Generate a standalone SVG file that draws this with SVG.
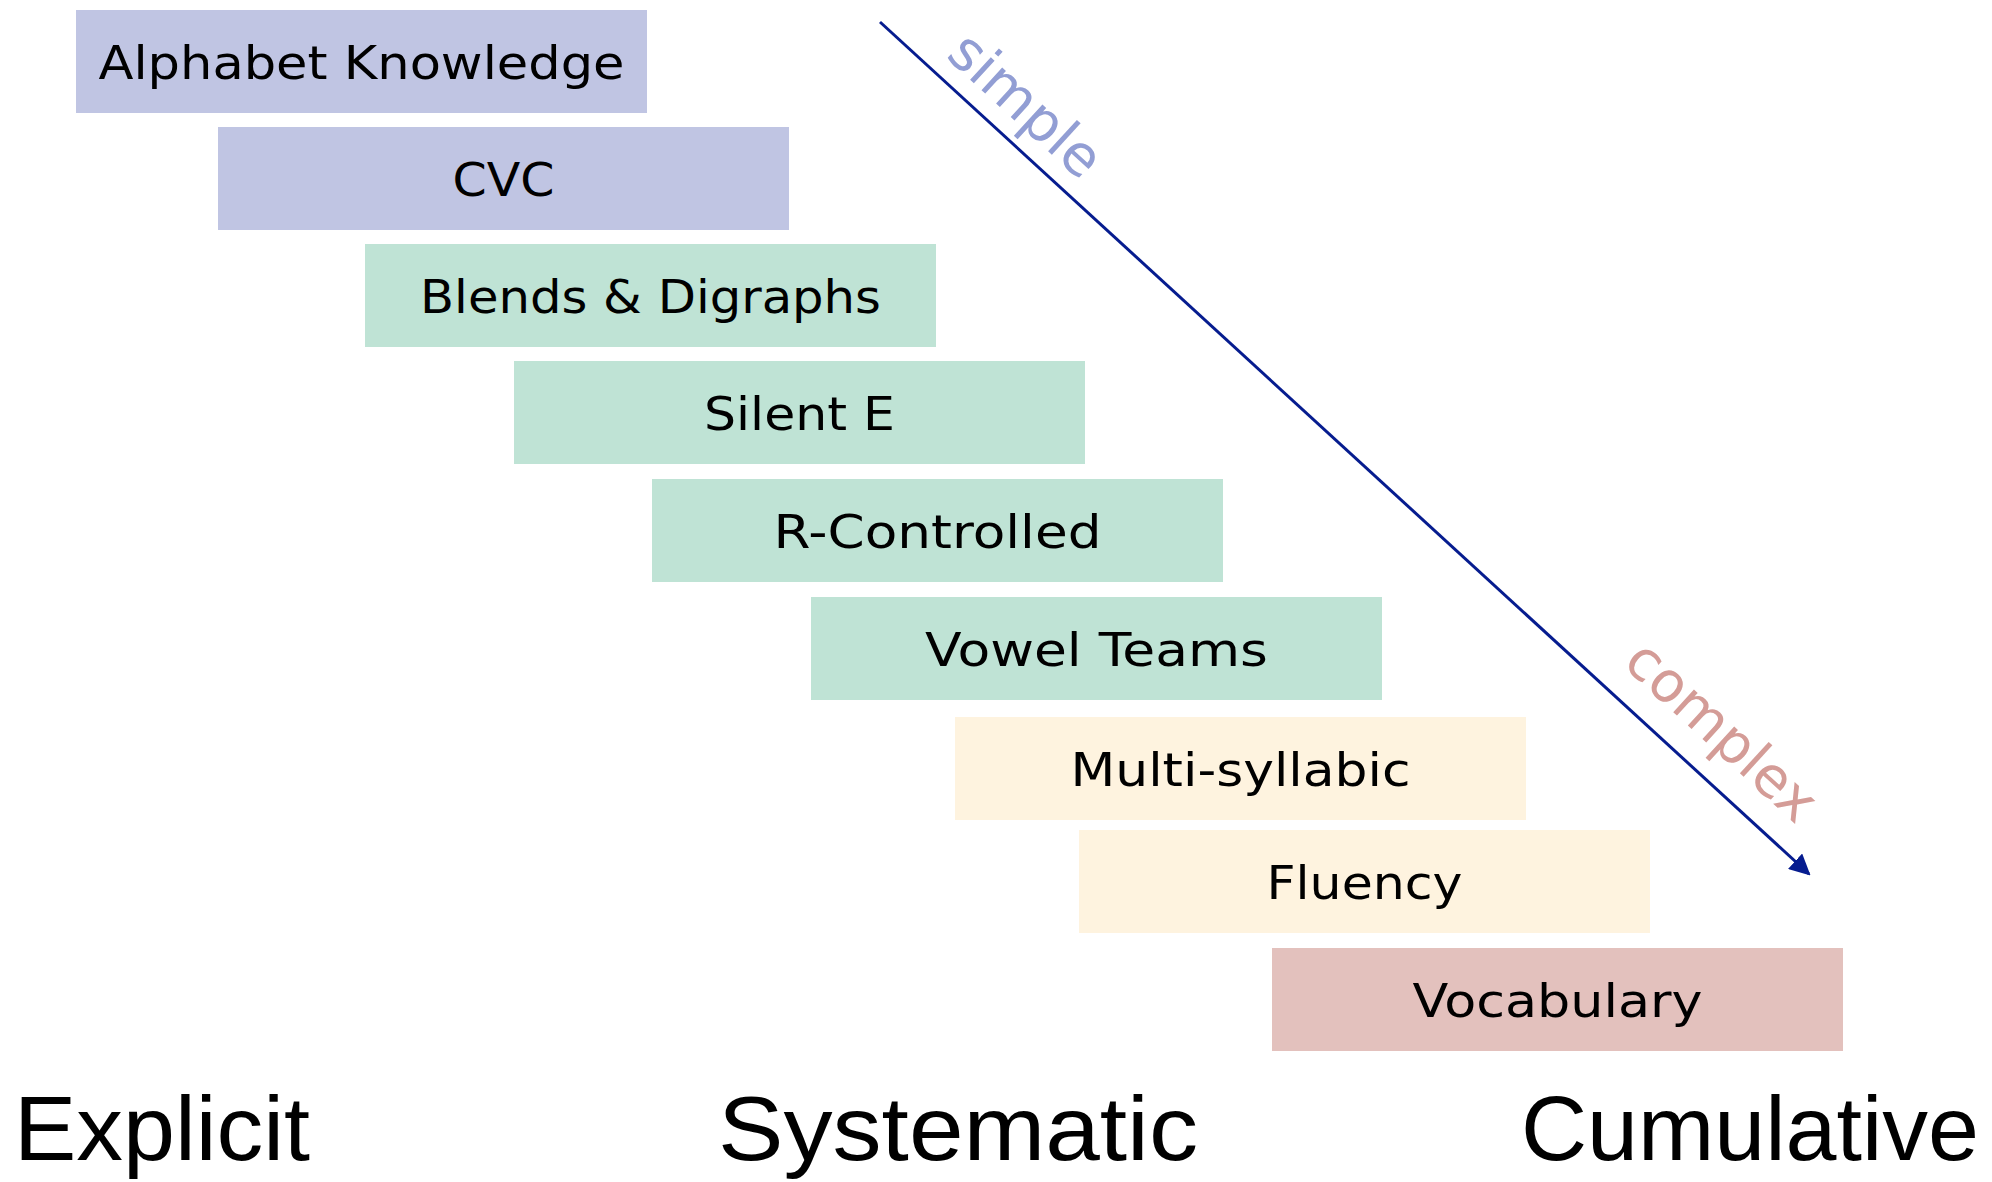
<svg xmlns="http://www.w3.org/2000/svg" width="1992" height="1182" viewBox="0 0 1992 1182">
<style>
.box{stroke:none}
.p{fill:#C0C5E3}
.g{fill:#BFE3D5}
.y{fill:#FEF3DF}
.r{fill:#E3C1BD}
.t{font-family:"DejaVu Sans","Noto Sans",sans-serif;font-size:46px;fill:#000;text-anchor:middle}
.big{font-family:"Liberation Sans","Noto Sans",sans-serif;font-size:90px;fill:#000}
.lab{font-family:"DejaVu Sans","Noto Sans",sans-serif;font-size:56px;text-anchor:middle}
</style>
<defs>
<marker id="ah" viewBox="0 0 10 10" refX="9" refY="5" markerWidth="7" markerHeight="7" orient="auto" markerUnits="strokeWidth">
<path d="M0,0 L10,5 L0,10 Z" fill="#061C8F"/>
</marker>
</defs>
<rect width="1992" height="1182" fill="#fff"/>
<g id="n1"><rect class="box p" x="76" y="10" width="571" height="103"/><text class="t" x="361.5" y="79" textLength="526" lengthAdjust="spacingAndGlyphs">Alphabet Knowledge</text></g>
<g id="n2"><rect class="box p" x="218" y="127" width="571" height="103"/><text class="t" x="503.5" y="196" textLength="102" lengthAdjust="spacingAndGlyphs">CVC</text></g>
<g id="n3"><rect class="box g" x="365" y="244" width="571" height="103"/><text class="t" x="650.5" y="313" textLength="461" lengthAdjust="spacingAndGlyphs">Blends &amp; Digraphs</text></g>
<g id="n4"><rect class="box g" x="514" y="361" width="571" height="103"/><text class="t" x="799.5" y="430" textLength="191" lengthAdjust="spacingAndGlyphs">Silent E</text></g>
<g id="n5"><rect class="box g" x="652" y="479" width="571" height="103"/><text class="t" x="937.5" y="548" textLength="328" lengthAdjust="spacingAndGlyphs">R-Controlled</text></g>
<g id="n6"><rect class="box g" x="811" y="597" width="571" height="103"/><text class="t" x="1096.5" y="666" textLength="343" lengthAdjust="spacingAndGlyphs">Vowel Teams</text></g>
<g id="n7"><rect class="box y" x="955" y="717" width="571" height="103"/><text class="t" x="1240.5" y="786" textLength="340" lengthAdjust="spacingAndGlyphs">Multi-syllabic</text></g>
<g id="n8"><rect class="box y" x="1079" y="830" width="571" height="103"/><text class="t" x="1364.5" y="899" textLength="196" lengthAdjust="spacingAndGlyphs">Fluency</text></g>
<g id="n9"><rect class="box r" x="1272" y="948" width="571" height="103"/><text class="t" x="1557.5" y="1017" textLength="290" lengthAdjust="spacingAndGlyphs">Vocabulary</text></g>
<g id="connectors">
<line x1="880" y1="22" x2="1809" y2="874" stroke="#061C8F" stroke-width="3" marker-end="url(#ah)"/>
</g>
<g id="labels">
<text class="lab" fill="#929ED4" transform="translate(1013,119) rotate(42.5)">simple</text>
<text class="lab" fill="#D49C97" transform="translate(1709,745) rotate(42.5)">complex</text>
<text class="big" x="14" y="1160" textLength="296" lengthAdjust="spacingAndGlyphs">Explicit</text>
<text class="big" x="718" y="1160" textLength="480" lengthAdjust="spacingAndGlyphs">Systematic</text>
<text class="big" x="1521" y="1160" textLength="458" lengthAdjust="spacingAndGlyphs">Cumulative</text>
</g>
</svg>
